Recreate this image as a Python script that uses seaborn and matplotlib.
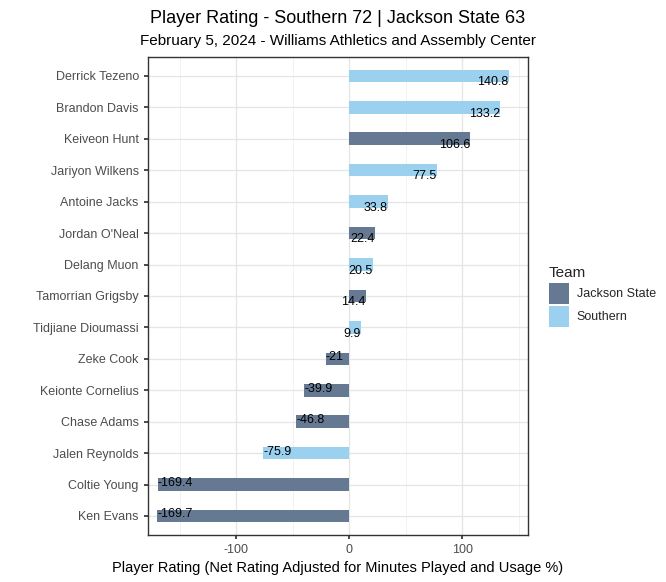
import matplotlib
matplotlib.use("Agg")
import matplotlib.pyplot as plt
from matplotlib.ticker import MultipleLocator
from matplotlib.patches import Patch
import seaborn as sns
import pandas as pd

players = ["Derrick Tezeno", "Brandon Davis", "Keiveon Hunt", "Jariyon Wilkens",
           "Antoine Jacks", "Jordan O'Neal", "Delang Muon", "Tamorrian Grigsby",
           "Tidjiane Dioumassi", "Zeke Cook", "Keionte Cornelius", "Chase Adams",
           "Jalen Reynolds", "Coltie Young", "Ken Evans"]
ratings = [140.8, 133.2, 106.6, 77.5, 33.8, 22.4, 20.5, 14.4, 9.9,
           -21, -39.9, -46.8, -75.9, -169.4, -169.7]
teams = ["Southern", "Southern", "Jackson State", "Southern", "Southern",
         "Jackson State", "Southern", "Jackson State", "Southern",
         "Jackson State", "Jackson State", "Jackson State", "Southern",
         "Jackson State", "Jackson State"]

team_colors = {"Jackson State": "#667993", "Southern": "#9bd1ef"}

df = pd.DataFrame({"player": players, "rating": ratings, "team": teams})

sns.set_theme(style="white")
plt.rcParams["font.family"] = ["Liberation Sans", "DejaVu Sans"]
plt.rcParams["axes.unicode_minus"] = False

fig, ax = plt.subplots(figsize=(6.66, 5.82), dpi=100)
fig.subplots_adjust(left=0.222, right=0.793, top=0.902, bottom=0.081)

sns.barplot(data=df, x="rating", y="player", hue="team", order=players,
            palette=team_colors, dodge=False, width=0.4, orient="h",
            saturation=1, legend=False, linewidth=0, ax=ax, zorder=2)

# value labels at bar ends
for i, v in enumerate(ratings):
    txt = f"{v:g}"
    if v >= 0:
        ax.text(v, i + 0.2, txt, ha="right", va="center", fontsize=9,
                color="black", zorder=3)
    else:
        ax.text(v, i - 0.05, txt, ha="left", va="center", fontsize=9,
                color="black", zorder=3)

ax.set_xlim(-178, 158)
ax.set_ylim(len(players) - 0.4, -0.6)
ax.xaxis.set_major_locator(MultipleLocator(100))
ax.xaxis.set_minor_locator(MultipleLocator(50))
ax.grid(which="major", axis="both", color="#e5e5e5", linewidth=0.9, zorder=0)
ax.grid(which="minor", axis="x", color="#f0f0f0", linewidth=0.6, zorder=0)
ax.set_axisbelow(True)
for s in ax.spines.values():
    s.set_color("#333333")
    s.set_linewidth(1.0)

ax.tick_params(axis="both", which="major", length=3, color="#333333",
               labelsize=9, labelcolor="#4d4d4d", left=True, bottom=True)
ax.tick_params(axis="x", which="minor", length=0)
ax.set_ylabel("")
ax.set_xlabel("Player Rating (Net Rating Adjusted for Minutes Played and Usage %)",
              fontsize=10.5, color="black", labelpad=4)

xc = (0.222 + 0.793) / 2
fig.text(xc, 0.969, "Player Rating - Southern 72 | Jackson State 63",
         ha="center", va="center", fontsize=13, color="black")
fig.text(xc, 0.930, "February 5, 2024 - Williams Athletics and Assembly Center",
         ha="center", va="center", fontsize=11, color="black")

handles = [Patch(facecolor=team_colors[t], edgecolor="none", label=t)
           for t in ["Jackson State", "Southern"]]
leg = fig.legend(handles=handles, title="Team", loc="upper left",
                 bbox_to_anchor=(0.807, 0.562), frameon=False, fontsize=9,
                 title_fontsize=11, handlelength=1.65, handleheight=2.2,
                 handletextpad=0.6, labelspacing=0.15)
leg._legend_box.align = "left"
leg._legend_box.sep = 2

fig.savefig("out.png", dpi=100)
